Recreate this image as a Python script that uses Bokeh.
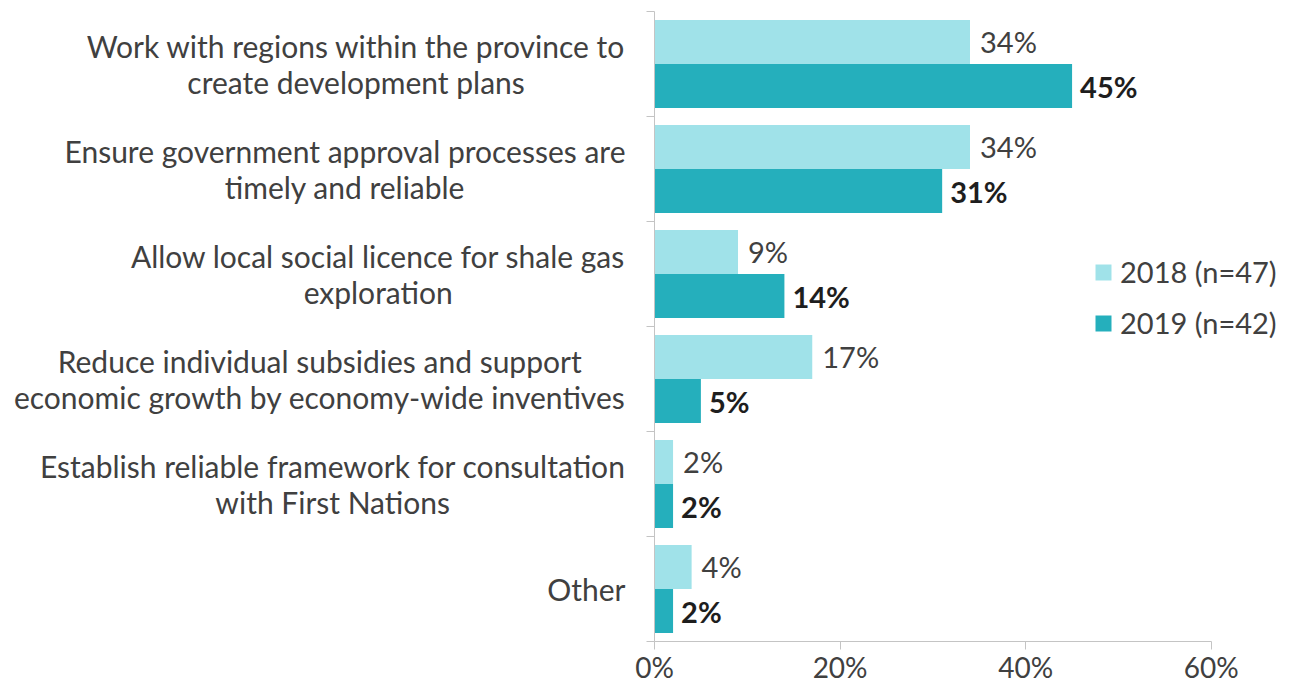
from bokeh.plotting import figure
from bokeh.layouts import row
from bokeh.models import Range1d, FixedTicker, ColumnDataSource, Legend, LegendItem
from bokeh.embed import file_html
from bokeh.resources import INLINE
from bokeh.core.properties import value

categories = [
    "Work with regions within the province to\ncreate development plans",
    "Ensure government approval processes are\ntimely and reliable",
    "Allow local social licence for shale gas\nexploration",
    "Reduce individual subsidies and support\neconomic growth by economy-wide inventives",
    "Establish reliable framework for consultation\nwith First Nations",
    "Other",
]
values_2018 = [34, 34, 9, 17, 2, 4]
values_2019 = [45, 31, 14, 5, 2, 2]
series_names = ["2018 (n=47)", "2019 (n=42)"]
x_ticks = [0, 20, 40, 60]

FONT = "Lato"
C2018 = "#a0e2e9"
C2019 = "#25afbc"
n = len(categories)
centers = [n - i - 0.5 for i in range(n)]
bar_h = 0.42

src18 = ColumnDataSource(dict(y=[c + bar_h / 2 for c in centers], x=values_2018,
                              lab=[f"{v}%" for v in values_2018]))
src19 = ColumnDataSource(dict(y=[c - bar_h / 2 for c in centers], x=values_2019,
                              lab=[f"{v}%" for v in values_2019]))
src_cat = ColumnDataSource(dict(y=centers, x=[1] * n, text=categories))

yr = Range1d(0, n)

# left panel holding the category labels (lines centred, block right-aligned)
left = figure(frame_width=630, frame_height=630, output_backend="svg", toolbar_location=None,
              x_range=Range1d(0, 1), y_range=yr, x_axis_location=None, y_axis_location=None,
              min_border_left=0, min_border_right=0, min_border_top=11, min_border_bottom=0)
left.outline_line_color = None
left.grid.grid_line_color = None
left.text(x="x", y="y", text="text", source=src_cat, x_offset=-5, anchor="center_right",
          text_align="center", text_baseline="middle", text_font=value(FONT),
          text_font_size="30px", text_color="#404040", text_line_height=1.0)

p = figure(frame_width=631, frame_height=630, output_backend="svg", toolbar_location=None,
           x_range=Range1d(0, 68), y_range=yr,
           min_border_left=24, min_border_right=3, min_border_top=11, min_border_bottom=0)
p.outline_line_color = None
p.grid.grid_line_color = None
p.background_fill_color = "white"

r18 = p.hbar(y="y", right="x", left=0, height=bar_h, source=src18, fill_color=C2018, line_color=None)
r19 = p.hbar(y="y", right="x", left=0, height=bar_h, source=src19, fill_color=C2019, line_color=None)

p.text(x="x", y="y", text="lab", source=src18, x_offset=10, text_baseline="middle",
       text_font=value(FONT), text_font_size="29px", text_color="#404040")
p.text(x="x", y="y", text="lab", source=src19, x_offset=8, text_baseline="middle",
       text_font=value(FONT), text_font_size="29px", text_color="#1e1e1e", text_font_style="bold")

# y axis: ticks at category boundaries only
yax = p.yaxis[0]
yax.ticker = FixedTicker(ticks=[], minor_ticks=list(range(n + 1)))
yax.major_label_text_font_size = "0px"
yax.major_tick_line_color = None
yax.major_tick_out = 0
yax.major_tick_in = 0
yax.minor_tick_out = 8
yax.minor_tick_in = 0
yax.minor_tick_line_color = "#c4c4c4"
yax.axis_line_color = "#c4c4c4"

# x axis
xax = p.xaxis[0]
xax.ticker = FixedTicker(ticks=x_ticks)
xax.bounds = (0, 60)
xax.major_label_overrides = {t: f"{t}%" for t in x_ticks}
xax.major_tick_out = 8
xax.major_tick_in = 0
xax.minor_tick_line_color = None
xax.major_tick_line_color = "#c4c4c4"
xax.axis_line_color = "#c4c4c4"
xax.major_label_standoff = 0
xax.major_label_text_font = FONT
xax.major_label_text_font_size = "28px"
xax.major_label_text_color = "#404040"

legend = Legend(items=[LegendItem(label=series_names[0], renderers=[r18]),
                       LegendItem(label=series_names[1], renderers=[r19])],
                location=(439, 301), orientation="vertical",
                border_line_color=None, background_fill_alpha=0,
                padding=0, margin=0, spacing=16,
                glyph_width=20, glyph_height=20, label_height=30, label_standoff=7,
                label_text_font=FONT, label_text_font_size="29px", label_text_color="#404040")
p.add_layout(legend)

layout = row(left, p, spacing=0)
open("out.html", "w").write(file_html(layout, INLINE))
